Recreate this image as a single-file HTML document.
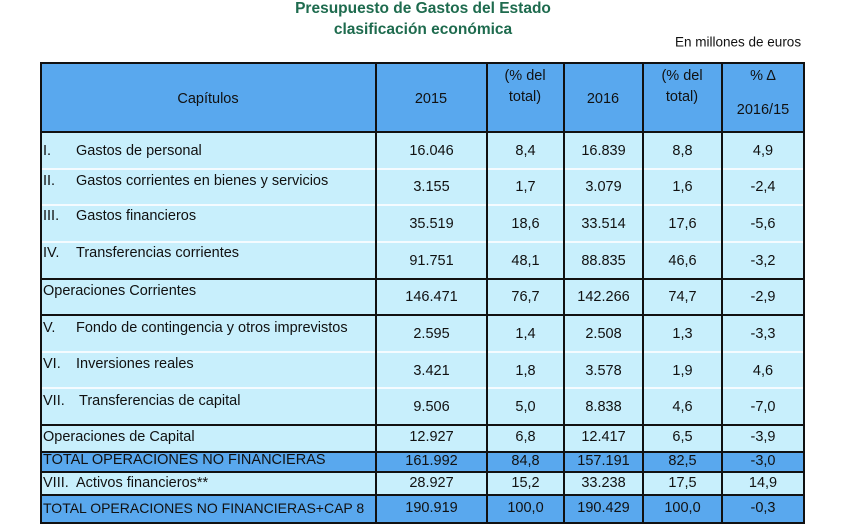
<!DOCTYPE html>
<html><head><meta charset="utf-8"><style>
body{margin:0;width:853px;height:530px;background:#fff;position:relative;overflow:hidden;font-family:"Liberation Sans",sans-serif;color:#111}
.t{position:absolute;white-space:nowrap;line-height:1;transform:translateY(-50%)}
.c{transform:translate(-50%,-50%)}
.bg{position:absolute}
.ttl{position:absolute;left:0;width:846px;text-align:center;font-weight:bold;font-size:15.5px;color:#1e6b4e}
</style></head><body>
<div class="ttl" style="top:0">Presupuesto de Gastos del Estado</div>
<div class="ttl" style="top:21px">clasificación económica</div>
<div class="t" style="left:675px;top:42px;font-size:13.5px">En millones de euros</div>
<div id="tbl"></div>
<script>
const cols=[41,376,487,564,643,722,804];
const tops=[132,169,205,242,279,315,352,388,425,452,472,495,523];
const labels=[["I.","Gastos de personal"],["II.","Gastos corrientes en bienes y servicios"],["III.","Gastos financieros"],["IV.","Transferencias corrientes"],["","Operaciones Corrientes"],["V.","Fondo de contingencia y otros imprevistos"],["VI.","Inversiones reales"],["VII.","Transferencias de capital"],["","Operaciones de Capital"],["","TOTAL OPERACIONES NO FINANCIERAS"],["VIII.","Activos financieros**"],["","TOTAL OPERACIONES NO FINANCIERAS+CAP 8"]];
const v2015=["16.046","3.155","35.519","91.751","146.471","2.595","3.421","9.506","12.927","161.992","28.927","190.919"];
const p2015=["8,4","1,7","18,6","48,1","76,7","1,4","1,8","5,0","6,8","84,8","15,2","100,0"];
const v2016=["16.839","3.079","33.514","88.835","142.266","2.508","3.578","8.838","12.417","157.191","33.238","190.429"];
const p2016=["8,8","1,6","17,6","46,6","74,7","1,3","1,9","4,6","6,5","82,5","17,5","100,0"];
const delta=["4,9","-2,4","-5,6","-3,2","-2,9","-3,3","4,6","-7,0","-3,9","-3,0","14,9","-0,3"];
const labelY=[151,181,216,253,291,328,364,401,437,460,483,508];
const numY=[151,187,224,261,297,334,371,407,437,461,483,508];
const dark=[9,11];
const whiteSep=[1,2,3,6,7];
const T=document.getElementById('tbl');
function box(x,y,w,h,bg){const d=document.createElement('div');d.className='bg';d.style.cssText=`left:${x}px;top:${y}px;width:${w}px;height:${h}px;background:${bg}`;T.appendChild(d);return d;}
function txt(x,y,s,center,size){const d=document.createElement('div');d.className='t'+(center?' c':'');d.style.left=x+'px';d.style.top=y+'px';d.style.fontSize=(size||14.5)+'px';d.textContent=s;T.appendChild(d);return d;}
const hb=box(41,63,763,69,'#59a8ee');


const hdr=[[208,99,"Capítulos"],[431,99,"2015"],[525,76,"(% del"],[525,97,"total)"],[603,99,"2016"],[682,76,"(% del"],[682,97,"total)"],[763,76,"% Δ"],[763,110,"2016/15"]];
hdr.forEach(h=>{const e=txt(h[0],h[1],h[2],true);

});
for(let i=0;i<labels.length;i++){
  const y=tops[i],h=tops[i+1]-tops[i];
  const r=box(41,y,763,h,dark.includes(i)?'#59a8ee':'#c8effc');
  
  
  if(labels[i][0]){const n=txt(43,labelY[i],labels[i][0]);
    
    
    const l=txt(i===7?79:76,labelY[i],labels[i][1]);
    
    }
  else{const l=txt(43,labelY[i],labels[i][1],false,i===11?14:14.5);
    
    }
  const vals=[v2015[i],p2015[i],v2016[i],p2016[i],delta[i]];
  for(let c=0;c<5;c++){const e=txt((cols[c+1]+cols[c+2])/2,numY[i],vals[c],true);
    
    }
}
for(let i=0;i<tops.length;i++){
  const w=whiteSep.includes(i);
  box(41,tops[i]-1,763,2,w?'#f4fbff':'#111');
  if(w){for(const x of cols)box(x-1,tops[i]-1,2,2,'#111');}
}
box(41,62,763,2,'#111');
for(const x of cols)box(x-1,62,2,462,'#111');
</script>
</body></html>
